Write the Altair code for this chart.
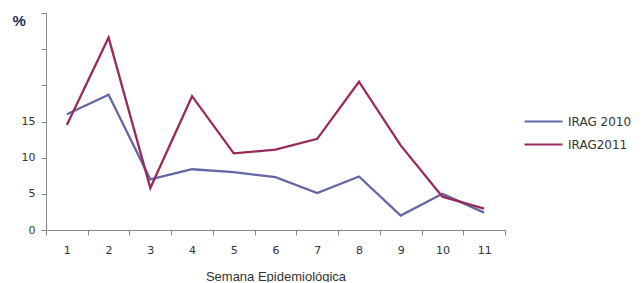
import altair as alt
import pandas as pd

weeks = ["1", "2", "3", "4", "5", "6", "7", "8", "9", "10", "11"]
irag_2010 = [16.0, 18.7, 7.0, 8.4, 8.0, 7.3, 5.1, 7.4, 2.0, 5.0, 2.4]
irag_2011 = [14.5, 26.6, 5.8, 18.5, 10.6, 11.1, 12.6, 20.5, 11.7, 4.6, 2.95]
series_names = ["IRAG 2010", "IRAG2011"]
series_colors = ["#6466A6", "#9A2A5E"]

rows = []
for name, vals in zip(series_names, [irag_2010, irag_2011]):
    for w, v in zip(weeks, vals):
        rows.append({"week": w, "value": v, "series": name})
df = pd.DataFrame(rows)

chart = alt.Chart(df).mark_line(strokeWidth=2.3).encode(
    x=alt.X("week:O", sort=weeks, bandPosition=0.5,
            scale=alt.Scale(type="band", paddingInner=0, paddingOuter=0),
            axis=alt.Axis(title="Semana Epidemiológica", labelAngle=0, tickBand="extent",
                          tickSize=5, labelPadding=9, titlePadding=15,
                          labelFont="DejaVu Sans", labelFontSize=11, labelColor="#333",
                          titleFont="Liberation Sans", titleFontSize=13, titleFontWeight="normal",
                          titleColor="#333", domainColor="#888", tickColor="#888")),
    y=alt.Y("value:Q", scale=alt.Scale(domain=[0, 30], nice=False),
            axis=alt.Axis(values=[0, 5, 10, 15, 20, 25, 30], grid=False,
                          labelExpr="datum.value <= 15 ? datum.label : ''",
                          title="%", titleAngle=0, titleX=-34, titleY=7, titleAlign="left",
                          titleBaseline="middle", titleFontSize=15, titleFontWeight="bold",
                          titleColor="#1C2F52", titleFont="Liberation Sans",
                          tickSize=5, labelPadding=6, labelFont="DejaVu Sans", labelFontSize=11,
                          labelColor="#333", domainColor="#888", tickColor="#888")),
    color=alt.Color("series:N", scale=alt.Scale(domain=series_names, range=series_colors),
                    legend=alt.Legend(title=None, orient="none", legendX=490, legendY=101,
                                      symbolType="M-3,0H3", symbolSize=160, symbolStrokeWidth=2,
                                      labelFont="DejaVu Sans", labelFontSize=12, labelColor="#333",
                                      labelOffset=17, rowPadding=9)),
).properties(
    width=459, height=217,
    autosize=alt.AutoSizeParams(type="none"),
    padding={"left": 38, "top": 5, "right": 129, "bottom": 52},
).configure_view(stroke=None)

chart.save("out.html", embed_options={"renderer": "svg", "actions": False})
